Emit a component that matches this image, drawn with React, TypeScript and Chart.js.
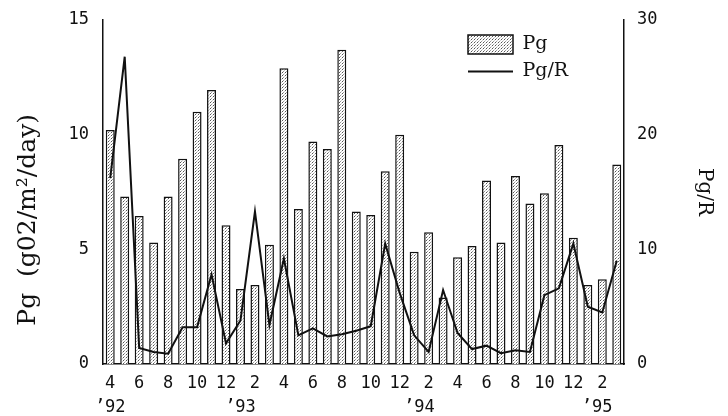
import React, { useEffect, useRef } from 'react';
import { Chart, registerables } from 'chart.js';

Chart.register(...registerables);

const categories = [
  'Apr 1992', 'May 1992', 'Jun 1992', 'Jul 1992', 'Aug 1992', 'Sep 1992', 'Oct 1992', 'Nov 1992', 'Dec 1992',
  'Jan 1993', 'Feb 1993', 'Mar 1993', 'Apr 1993', 'May 1993', 'Jun 1993', 'Jul 1993', 'Aug 1993', 'Sep 1993',
  'Oct 1993', 'Nov 1993', 'Dec 1993', 'Jan 1994', 'Feb 1994', 'Mar 1994', 'Apr 1994', 'May 1994', 'Jun 1994',
  'Jul 1994', 'Aug 1994', 'Sep 1994', 'Oct 1994', 'Nov 1994', 'Dec 1994', 'Jan 1995', 'Feb 1995', 'Mar 1995',
];

const pgValues = [
  10.2, 7.3, 6.45, 5.3, 7.3, 8.95, 11.0, 11.95, 6.05,
  3.27, 3.45, 5.2, 12.9, 6.76, 9.7, 9.38, 13.7, 6.65,
  6.5, 8.4, 10.0, 4.9, 5.75, 2.9, 4.65, 5.15, 8.0,
  5.3, 8.2, 7.0, 7.45, 9.55, 5.5, 3.45, 3.7, 8.7,
];

const pgRValues = [
  16.2, 26.8, 1.4, 1.05, 0.9, 3.2, 3.2, 7.8, 1.8,
  3.8, 13.3, 3.4, 9.2, 2.5, 3.1, 2.4, 2.6, 2.9,
  3.3, 10.5, 6.2, 2.5, 1.05, 6.45, 2.7, 1.3, 1.6,
  0.95, 1.2, 1.05, 6.0, 6.6, 10.5, 5.0, 4.5, 9.0,
];

const monthTicks = [
  '4', '', '6', '', '8', '', '10', '', '12', '', '2', '',
  '4', '', '6', '', '8', '', '10', '', '12', '', '2', '',
  '4', '', '6', '', '8', '', '10', '', '12', '', '2', '',
];

const yearTicks = [
  '’92', '', '', '', '', '', '', '', '', '’93', '', '',
  '', '', '', '', '', '', '', '', '', ' ’94', '', '',
  '', '', '', '', '', '', '', '', '', '', '’95 ', '',
];

const leftTicks = [0, 5, 10, 15];
const rightTicks = [0, 10, 20, 30];

function makePattern(): CanvasPattern | string {
  const c = document.createElement('canvas');
  c.width = 3;
  c.height = 3;
  const ctx = c.getContext('2d');
  if (!ctx) return '#ccc';
  ctx.fillStyle = '#ffffff';
  ctx.fillRect(0, 0, 3, 3);
  ctx.fillStyle = '#555555';
  ctx.fillRect(0, 0, 1, 1);
  ctx.fillStyle = '#999999';
  ctx.fillRect(1, 2, 1, 1);
  ctx.fillStyle = '#cccccc';
  ctx.fillRect(2, 1, 1, 1);
  const p = ctx.createPattern(c, 'repeat');
  return p || '#ccc';
}

const legendMover = {
  id: 'legendMover',
  afterLayout(chart: any) {
    const lg = chart.legend;
    if (!lg) return;
    const w = lg.width;
    const h = lg.height;
    lg.left = 460;
    lg.right = 460 + w;
    lg.top = 27;
    lg.bottom = 27 + h;
  },
};

export default function App() {
  const ref = useRef<HTMLCanvasElement | null>(null);

  useEffect(() => {
    document.body.style.margin = '0';
    const canvas = ref.current;
    if (!canvas) return;
    const pattern = makePattern();
    const ink = '#111';
    const tickFont = { family: 'DejaVu Sans Mono', size: 17 };
    const serif = 'DejaVu Serif';

    const chart = new Chart(canvas, {
      type: 'bar',
      data: {
        labels: categories,
        datasets: [
          {
            type: 'bar',
            label: 'Pg',
            data: pgValues,
            yAxisID: 'y',
            backgroundColor: pattern as any,
            borderColor: ink,
            borderWidth: 1.5,
            barPercentage: 0.62,
            categoryPercentage: 1,
            order: 1,
            pointStyle: 'rect',
          } as any,
          {
            type: 'line',
            label: 'Pg/R',
            data: pgRValues,
            yAxisID: 'y1',
            borderColor: ink,
            backgroundColor: ink,
            borderWidth: 2,
            pointRadius: 0,
            pointStyle: 'line',
            tension: 0,
            fill: false,
            order: 0,
          } as any,
        ],
      },
      options: {
        animation: false,
        responsive: true,
        maintainAspectRatio: false,
        layout: { padding: { top: 20, left: 0, right: 0, bottom: 0 } },
        plugins: {
          tooltip: { enabled: false },
          legend: {
            position: 'chartArea' as any,
            align: 'start',
            labels: {
              usePointStyle: true,
              pointStyleWidth: 45,
              boxHeight: 20,
              padding: 8,
              color: ink,
              font: { family: serif, size: 19 },
              sort: (a: any, b: any) => a.datasetIndex - b.datasetIndex,
            },
          },
        },
        scales: {
          x: {
            type: 'category',
            offset: true,
            grid: { display: false },
            border: { display: true, color: ink, width: 1.5 },
            afterFit: (s: any) => { s.height = 52; },
            ticks: {
              autoSkip: false,
              maxRotation: 0,
              minRotation: 0,
              padding: 0,
              color: ink,
              font: { ...tickFont, lineHeight: 1.4 },
              callback: (_v: any, i: number) => [monthTicks[i], yearTicks[i]],
            },
          },
          y: {
            position: 'left',
            min: 0,
            max: 15,
            afterFit: (s: any) => { s.width = 103; },
            afterBuildTicks: (s: any) => { s.ticks = leftTicks.map((v) => ({ value: v })); },
            border: { display: true, color: ink, width: 1.5 },
            grid: { display: false },
            ticks: { padding: 6, color: ink, font: tickFont },
            title: {
              display: true,
              text: 'Pg  (g02/m²/day)       ',
              color: ink,
              font: { family: serif, size: 25 },
              padding: { top: 13, bottom: 0 },
            },
          },
          y1: {
            position: 'right',
            min: 0,
            max: 30,
            afterFit: (s: any) => { s.width = 104; },
            afterBuildTicks: (s: any) => { s.ticks = rightTicks.map((v) => ({ value: v })); },
            border: { display: true, color: ink, width: 1.5 },
            grid: { display: false },
            ticks: { padding: 5, color: ink, font: tickFont },
            title: {
              display: true,
              text: 'Pg/R',
              color: ink,
              font: { family: serif, size: 20 },
              padding: { top: 12, bottom: 0 },
            },
          },
        },
      },
      plugins: [legendMover],
    });

    return () => chart.destroy();
  }, []);

  return (
    <div style={{ position: 'relative', width: 728, height: 416 }}>
      <canvas ref={ref} />
    </div>
  );
}
